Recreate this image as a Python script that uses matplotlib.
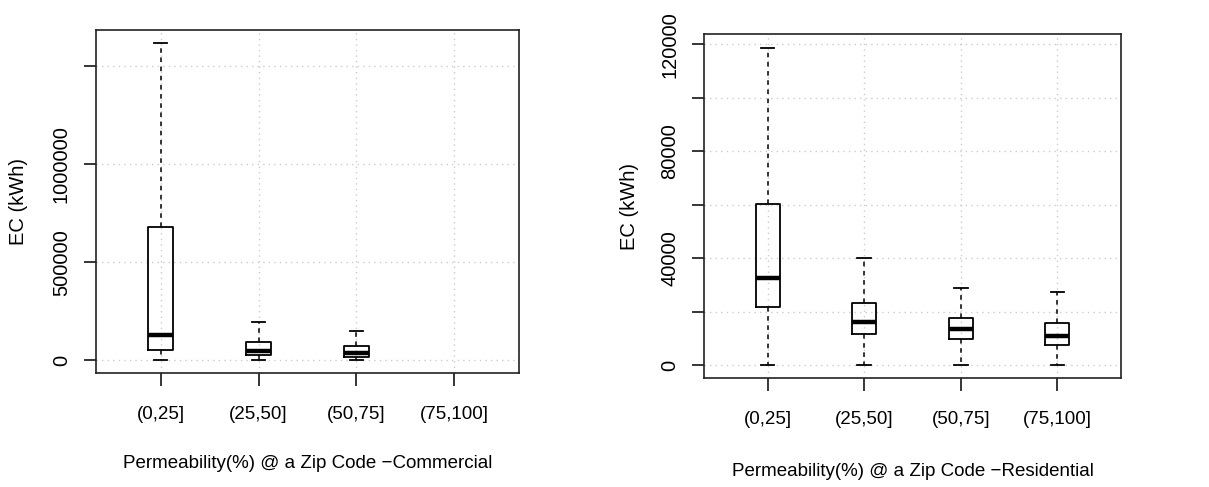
#!/usr/bin/env python3
import matplotlib
matplotlib.use('Agg')
import matplotlib.pyplot as plt

plt.rcParams['font.family'] = ['Liberation Sans', 'DejaVu Sans']
plt.rcParams['font.size'] = 13.5

categories = ['(0,25]', '(25,50]', '(50,75]', '(75,100]']

# Commercial (no data in last bin)
com_whislo = [0, 0, 0]
com_q1 = [51000, 25500, 17000]
com_med = [127500, 45000, 36000]
com_q3 = [678000, 92000, 73000]
com_whishi = [1617000, 194000, 150000]

# Residential
res_whislo = [0, 0, 0, 0]
res_q1 = [21900, 11700, 9950, 7600]
res_med = [32500, 16100, 13500, 11000]
res_q3 = [60500, 23200, 17600, 15700]
res_whishi = [118700, 40300, 29100, 27300]


def make_stats(lo, q1, med, q3, hi):
    return [dict(whislo=a, q1=b, med=c, q3=d, whishi=e, fliers=[])
            for a, b, c, d, e in zip(lo, q1, med, q3, hi)]


def draw(ax, stats, yticks, ylabels, ylim, xlabel, ylabelpad, xlabelpad):
    pos = list(range(1, len(stats) + 1))
    ax.bxp(stats, positions=pos, widths=0.25, showfliers=False,
           boxprops=dict(color='black', linewidth=1.3),
           medianprops=dict(color='black', linewidth=3.2, solid_capstyle='butt'),
           whiskerprops=dict(color='black', linewidth=1.1, linestyle=(0, (3, 3))),
           capprops=dict(color='black', linewidth=1.3),
           capwidths=0.14)
    ax.set_xlim(0.34, 4.66)
    ax.set_ylim(*ylim)
    ax.set_xticks([1, 2, 3, 4])
    ax.set_xticklabels(categories)
    ax.set_yticks(yticks)
    ax.set_yticklabels(ylabels, fontsize=14.5)
    ax.tick_params(axis='x', length=9, width=1.1, pad=15)
    ax.tick_params(axis='y', length=9, width=1.1, pad=9, labelrotation=90)
    for lab in ax.get_yticklabels():
        lab.set_va('center')
    ax.grid(True, color='#cccccc', linestyle=(0, (1, 3)), linewidth=1.0)
    ax.set_axisbelow(True)
    for s in ax.spines.values():
        s.set_linewidth(1.2)
        s.set_color('#222222')
    ax.set_xlabel(xlabel, labelpad=xlabelpad)
    ax.set_ylabel('EC (kWh)', labelpad=ylabelpad, fontsize=14.5)


fig = plt.figure(figsize=(12.09, 4.87), dpi=100)
ax1 = fig.add_axes([0.0794, 0.234, 0.3499, 0.704])
ax2 = fig.add_axes([0.5823, 0.2238, 0.3449, 0.706])

draw(ax1, make_stats(com_whislo, com_q1, com_med, com_q3, com_whishi),
     [0, 500000, 1000000, 1500000], ['0', '500000', '1000000', ''],
     (-66000, 1684000), 'Permeability(%) @ a Zip Code \u2212Commercial', 17, 23)
draw(ax2, make_stats(res_whislo, res_q1, res_med, res_q3, res_whishi),
     [0, 20000, 40000, 60000, 80000, 100000, 120000],
     ['0', '', '40000', '', '80000', '', '120000'],
     (-4750, 123850), 'Permeability(%) @ a Zip Code \u2212Residential', 15, 25)

fig.savefig('out.png', dpi=100)
